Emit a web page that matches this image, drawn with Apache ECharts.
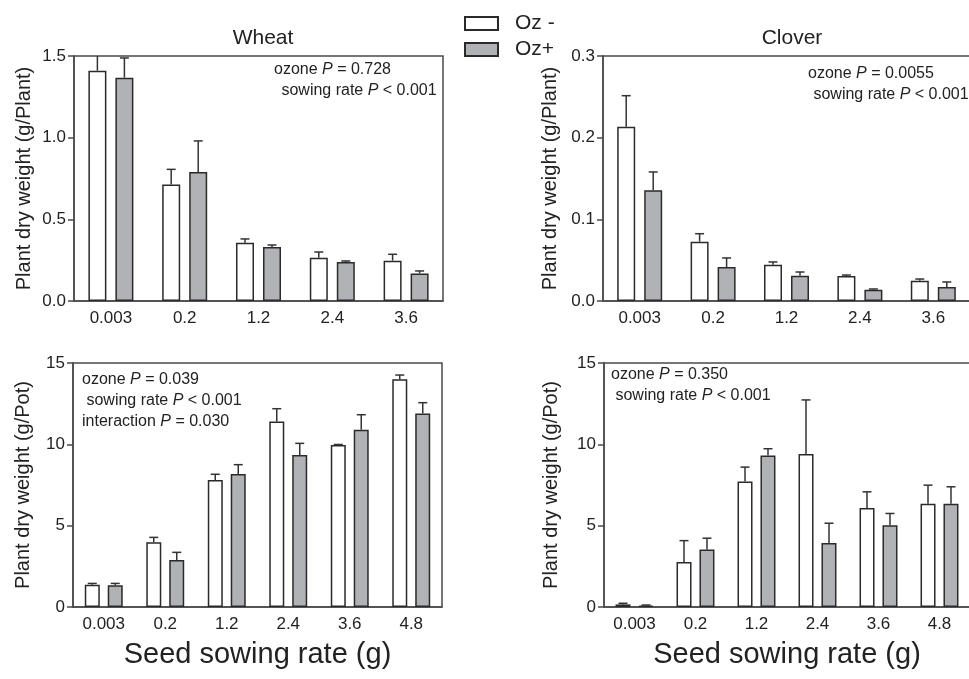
<!DOCTYPE html>
<html>
<head>
<meta charset="utf-8">
<script src="https://cdn.jsdelivr.net/npm/echarts@6/dist/echarts.min.js"></script>
<style>
  html, body { margin: 0; padding: 0; background: #fff; }
  #chart { width: 969px; height: 679px; }
</style>
</head>
<body>
<div id="chart"></div>
<script>
// categories
const plantCats = ['0.003', '0.2', '1.2', '2.4', '3.6']
const potCats = ['0.003', '0.2', '1.2', '2.4', '3.6', '4.8']

// wheat, g/plant
const wheatPlantMinus = [1.41, 0.714, 0.357, 0.265, 0.247]
const wheatPlantMinusSE = [0.16, 0.092, 0.023, 0.035, 0.039]
const wheatPlantPlus = [1.367, 0.79, 0.331, 0.239, 0.169]
const wheatPlantPlusSE = [0.121, 0.19, 0.012, 0.006, 0.015]

// clover, g/plant
const cloverPlantMinus = [0.2135, 0.0727, 0.0445, 0.0306, 0.0249]
const cloverPlantMinusSE = [0.0379, 0.0097, 0.0033, 0.0012, 0.002]
const cloverPlantPlus = [0.1355, 0.0416, 0.031, 0.0139, 0.0171]
const cloverPlantPlusSE = [0.0225, 0.0111, 0.0045, 0.0008, 0.0062]

// wheat, g/pot
const wheatPotMinus = [1.37, 3.98, 7.81, 11.41, 9.96, 14.0]
const wheatPotMinusSE = [0.08, 0.3, 0.35, 0.78, 0.03, 0.26]
const wheatPotPlus = [1.33, 2.89, 8.18, 9.34, 10.9, 11.9]
const wheatPotPlusSE = [0.12, 0.47, 0.57, 0.72, 0.92, 0.66]

// clover, g/pot
const cloverPotMinus = [0.16, 2.77, 7.72, 9.4, 6.08, 6.34]
const cloverPotMinusSE = [0.07, 1.31, 0.88, 3.33, 1.0, 1.15]
const cloverPotPlus = [0.08, 3.53, 9.32, 3.94, 5.03, 6.34]
const cloverPotPlusSE = [0.04, 0.7, 0.41, 1.21, 0.72, 1.05]

const FONT = 'Liberation Sans, Arial, sans-serif'
const AXIS = '#4a4a4a'
const INK = '#222'
const GREY = '#b1b2b6'

const grids = [
  { left: 74, top: 56, width: 369, height: 245 },
  { left: 603, top: 56, width: 367, height: 245 },
  { left: 73, top: 363, width: 369, height: 244 },
  { left: 604, top: 363, width: 366, height: 244 }
]

const panels = [
  { cats: plantCats, minus: wheatPlantMinus, minusSE: wheatPlantMinusSE, plus: wheatPlantPlus, plusSE: wheatPlantPlusSE,
    max: 1.5, interval: 0.5, dec: 1, yName: 'Plant dry weight (g/Plant)', bw: 18, gap: 9 },
  { cats: plantCats, minus: cloverPlantMinus, minusSE: cloverPlantMinusSE, plus: cloverPlantPlus, plusSE: cloverPlantPlusSE,
    max: 0.3, interval: 0.1, dec: 1, yName: 'Plant dry weight (g/Plant)', bw: 18, gap: 9 },
  { cats: potCats, minus: wheatPotMinus, minusSE: wheatPotMinusSE, plus: wheatPotPlus, plusSE: wheatPotPlusSE,
    max: 15, interval: 5, dec: 0, yName: 'Plant dry weight (g/Pot)', bw: 15, gap: 8, xName: 'Seed sowing rate (g)' },
  { cats: potCats, minus: cloverPotMinus, minusSE: cloverPotMinusSE, plus: cloverPotPlus, plusSE: cloverPotPlusSE,
    max: 15, interval: 5, dec: 0, yName: 'Plant dry weight (g/Pot)', bw: 15, gap: 8, xName: 'Seed sowing rate (g)' }
]

const xAxes = []
const yAxes = []
const series = []

panels.forEach((p, i) => {
  xAxes.push({
    type: 'category',
    gridIndex: i,
    data: p.cats,
    name: p.xName || '',
    nameLocation: 'middle',
    nameGap: 33,
    nameTextStyle: { fontSize: 29, color: INK, fontFamily: FONT },
    axisLine: { lineStyle: { color: AXIS, width: 1.5 } },
    axisTick: { alignWithLabel: true, length: 6, lineStyle: { color: AXIS, width: 1.5 } },
    axisLabel: { fontSize: 17, color: INK, fontFamily: FONT, margin: 9 },
    splitLine: { show: false }
  })
  yAxes.push({
    type: 'value',
    gridIndex: i,
    min: 0,
    max: p.max,
    interval: p.interval,
    name: p.yName,
    nameLocation: 'middle',
    nameGap: i % 2 === 0 ? 40 : 43,
    nameTextStyle: { fontSize: 20, color: INK, fontFamily: FONT },
    axisLine: { show: true, lineStyle: { color: AXIS, width: 1.5 } },
    axisTick: { show: true, length: 6, lineStyle: { color: AXIS, width: 1.5 } },
    axisLabel: { fontSize: 17, color: INK, fontFamily: FONT, margin: 8,
      formatter: v => v.toFixed(p.dec) },
    splitLine: { show: false }
  })
  const gapPct = Math.round(p.gap / p.bw * 100) + '%'
  series.push({
    name: 'Oz -', type: 'bar', xAxisIndex: i, yAxisIndex: i,
    barWidth: p.bw, barGap: gapPct,
    itemStyle: { color: '#fff', borderColor: '#2a2a2a', borderWidth: 1.5 },
    data: p.minus
  })
  series.push({
    name: 'Oz+', type: 'bar', xAxisIndex: i, yAxisIndex: i,
    barWidth: p.bw, barGap: gapPct,
    itemStyle: { color: GREY, borderColor: '#2a2a2a', borderWidth: 1.5 },
    data: p.plus
  })
  const errData = []
  p.cats.forEach((c, k) => {
    errData.push([k, p.minus[k], p.minus[k] + p.minusSE[k], -1])
    errData.push([k, p.plus[k], p.plus[k] + p.plusSE[k], 1])
  })
  const off = (p.bw + p.gap) / 2
  series.push({
    type: 'custom', xAxisIndex: i, yAxisIndex: i, z: 5, clip: true,
    encode: { x: 0, y: 2 },
    data: errData,
    renderItem(params, api) {
      const base = api.coord([api.value(0), api.value(1)])
      const tip = api.coord([api.value(0), api.value(2)])
      const x = base[0] + api.value(3) * off
      const st = { stroke: '#333', lineWidth: 1.5 }
      return {
        type: 'group',
        children: [
          { type: 'line', shape: { x1: x, y1: base[1], x2: x, y2: tip[1] }, style: st },
          { type: 'line', shape: { x1: x - 4.5, y1: tip[1], x2: x + 4.5, y2: tip[1] }, style: st }
        ]
      }
    }
  })
})

function note(left, top, text) {
  return {
    type: 'text', left, top,
    style: {
      text,
      font: '16px ' + FONT,
      fill: INK,
      rich: { i: { fontStyle: 'italic', fontSize: 16, fontFamily: FONT, fill: INK } }
    }
  }
}

const chart = echarts.init(document.getElementById('chart'))
chart.setOption({
  animation: false,
  backgroundColor: '#fff',
  title: [
    { text: 'Wheat', left: 258, top: 23, textAlign: 'center',
      textStyle: { fontSize: 21, fontWeight: 'normal', color: INK, fontFamily: FONT } },
    { text: 'Clover', left: 787, top: 23, textAlign: 'center',
      textStyle: { fontSize: 21, fontWeight: 'normal', color: INK, fontFamily: FONT } }
  ],
  legend: {
    data: ['Oz -', 'Oz+'],
    orient: 'vertical',
    icon: 'rect',
    left: 459, top: 8,
    itemWidth: 33, itemHeight: 13, itemGap: 5,
    textStyle: { fontSize: 21, color: INK, fontFamily: FONT, padding: [0, 0, 0, 12] },
    selectedMode: false
  },
  grid: grids.map(g => Object.assign({
    show: true, borderColor: AXIS, borderWidth: 1.5, containLabel: false, outerBoundsMode: 'none'
  }, g)),
  xAxis: xAxes,
  yAxis: yAxes,
  series,
  graphic: [
    note(274, 62, 'ozone {i|P} = 0.728'),
    note(277, 83, ' sowing rate {i|P} < 0.001'),
    note(808, 66, 'ozone {i|P} = 0.0055'),
    note(809, 87, ' sowing rate {i|P} < 0.001'),
    note(82, 372, 'ozone {i|P} = 0.039'),
    note(82, 393, ' sowing rate {i|P} < 0.001'),
    note(82, 414, 'interaction {i|P} = 0.030'),
    note(611, 367, 'ozone {i|P} = 0.350'),
    note(611, 388, ' sowing rate {i|P} < 0.001')
  ]
})
window.addEventListener('resize', () => chart.resize())
</script>
</body>
</html>
